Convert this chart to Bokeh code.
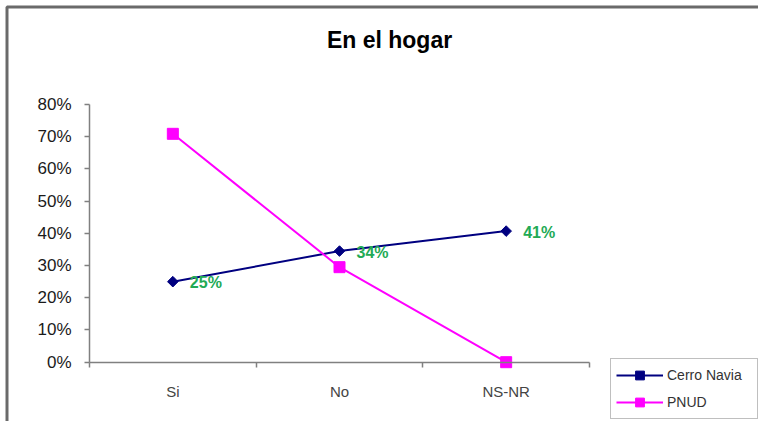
from bokeh.plotting import figure
from bokeh.models import (FixedTicker, NumeralTickFormatter, Range1d, Legend, LegendItem,
                          ColumnDataSource, Label, BoxAnnotation)
from bokeh.core.properties import value
from bokeh.embed import file_html
from bokeh.resources import INLINE
import math

# ---- data ----
categories = ["Si", "No", "NS-NR"]
cerro_navia = [0.25, 0.345, 0.407]
pnud = [0.709, 0.295, 0.0]
series_names = ["Cerro Navia", "PNUD"]
y_ticks = [0.0, 0.1, 0.2, 0.3, 0.4, 0.5, 0.6, 0.7, 0.8]
y_max = 0.8
title_text = "En el hogar"

FONT = "Liberation Sans"

# ---- layout (pixels on the canvas) ----
W, H = 758, 421
PLOT_L, PLOT_R = 89, 589        # x-axis span
PLOT_T, PLOT_B = 104, 361.7     # y-axis span (top = y_max, bottom = 0)
n = len(categories)
pxx = (PLOT_R - PLOT_L) / n
pxy = (PLOT_B - PLOT_T) / y_max
x_start = -PLOT_L / pxx
x_end = n + (W - PLOT_R) / pxx
y_start = -(H - PLOT_B) / pxy
y_end = y_max + PLOT_T / pxy

def sx(px):
    return x_start + px / pxx

def sy(py):
    return y_end - py / pxy

xs = [i + 0.5 for i in range(n)]
boundaries = list(range(n + 1))

p = figure(width=W, height=H, output_backend="svg", toolbar_location=None,
           x_range=Range1d(x_start, x_end), y_range=Range1d(y_start, y_end),
           min_border=0, min_border_left=0, min_border_right=0,
           min_border_top=0, min_border_bottom=0)
p.outline_line_color = None
p.xgrid.visible = False
p.ygrid.visible = False
p.background_fill_color = "white"
p.border_fill_color = "white"

# outer chart border (top and left visible)
p.add_layout(BoxAnnotation(left=sx(6.5), right=x_end + 5, top=sy(6.5), bottom=y_start - 5,
                           fill_color=None, fill_alpha=0, line_color="#6a6a6a",
                           line_alpha=1.0, line_width=3))

# y axis
ya = p.yaxis[0]
ya.fixed_location = 0
ya.bounds = (0, y_max)
ya.ticker = FixedTicker(ticks=y_ticks)
ya.formatter = NumeralTickFormatter(format="0%")
ya.axis_line_color = "#808080"
ya.axis_line_width = 1.5
ya.major_tick_line_color = "#808080"
ya.major_tick_line_width = 1.5
ya.major_tick_out = 5
ya.major_tick_in = 0
ya.minor_tick_line_color = None
ya.major_label_text_font = FONT
ya.major_label_text_font_size = "17px"
ya.major_label_text_color = "#1a1a1a"
ya.major_label_standoff = 13

# x axis
xa = p.xaxis[0]
xa.fixed_location = 0
xa.bounds = (0, n)
xa.ticker = FixedTicker(ticks=xs, minor_ticks=boundaries)
xa.major_label_overrides = {x: c for x, c in zip(xs, categories)}
xa.axis_line_color = "#808080"
xa.axis_line_width = 1.5
xa.major_tick_line_color = None
xa.major_tick_out = 0
xa.major_tick_in = 0
xa.minor_tick_line_color = "#808080"
xa.minor_tick_line_width = 1.5
xa.minor_tick_out = 5
xa.minor_tick_in = 0
xa.major_label_text_font = FONT
xa.major_label_text_font_size = "15px"
xa.major_label_text_color = "#444444"
xa.major_label_standoff = 16

# series
src_c = ColumnDataSource(dict(x=xs, y=cerro_navia,
                              lbl=[f"{round(v * 100)}%" for v in cerro_navia]))
src_p = ColumnDataSource(dict(x=xs, y=pnud))

l1 = p.line("x", "y", source=src_c, line_color="#000080", line_width=2)
s1 = p.scatter("x", "y", source=src_c, marker="square", size=7.5, angle=math.pi / 4,
               fill_color="#000080", line_color="#000080")
l2 = p.line("x", "y", source=src_p, line_color="#FF00FF", line_width=2)
s2 = p.scatter("x", "y", source=src_p, marker="square", size=11,
               fill_color="#FF00FF", line_color="#FF00FF")

p.text("x", "y", text="lbl", source=src_c, x_offset=17, y_offset=1,
       text_font=value(FONT), text_font_size="16px", text_font_style="bold",
       text_color="#22AA55", text_align="left", text_baseline="middle")

# title
p.add_layout(Label(x=sx(389), y=sy(39), text=title_text, text_font=FONT,
                   text_font_size="23px", text_font_style="bold", text_color="#000000",
                   text_align="center", text_baseline="middle"))

legend = Legend(items=[LegendItem(label=series_names[0], renderers=[l1, s1]),
                       LegendItem(label=series_names[1], renderers=[l2, s2])],
                location=(610, 2))
legend.label_text_font = FONT
legend.label_text_font_size = "14px"
legend.label_text_color = "#333333"
legend.glyph_width = 47
legend.glyph_height = 22
legend.label_standoff = 4
legend.label_width = 85
legend.padding = 5
legend.spacing = 5
legend.margin = 0
legend.border_line_color = "#808080"
legend.border_line_width = 1.5
legend.background_fill_color = "white"
legend.background_fill_alpha = 1
p.add_layout(legend, "center")

open("out.html", "w").write(file_html(p, INLINE))
